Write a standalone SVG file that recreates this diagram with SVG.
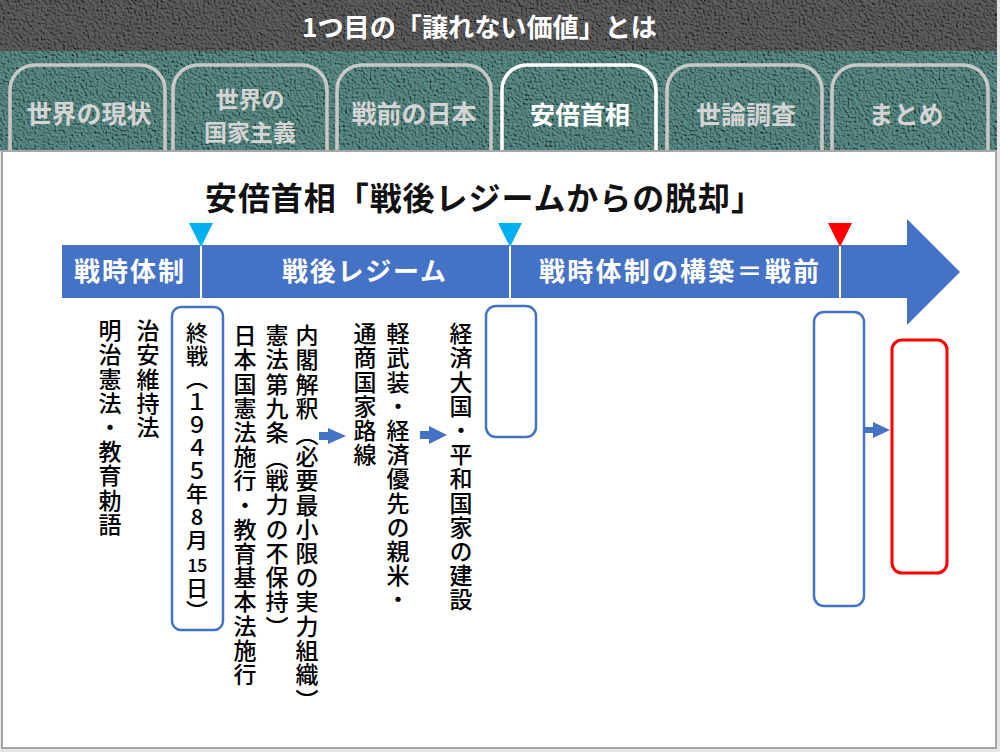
<svg xmlns="http://www.w3.org/2000/svg" width="1000" height="752" viewBox="0 0 1000 752">
<defs>
<filter id="tex" x="0" y="0" width="100%" height="100%">
<feTurbulence type="fractalNoise" baseFrequency="0.45" numOctaves="3" seed="7" result="n"/>
<feDiffuseLighting in="n" surfaceScale="3" lighting-color="#ffffff" result="l"><feDistantLight azimuth="135" elevation="55"/></feDiffuseLighting>
<feComposite in="l" in2="SourceGraphic" operator="arithmetic" k1="1.15" k2="0" k3="0" k4="0"/>
</filter>
<style>
.tab{fill:none;stroke:#c8c8c8;stroke-width:3.5}
.tabA{fill:none;stroke:#ffffff;stroke-width:3.5}
.tabt{font-family:"Noto Sans CJK JP","Noto Sans CJK SC",sans-serif;font-size:25px;font-weight:bold;fill:#d4d4d4;text-anchor:middle}
.tabt2{font-size:23px}
.tabtA{fill:#ffffff}
.band{font-family:"Noto Sans CJK JP",sans-serif;font-size:26px;font-weight:bold;fill:#ffffff}
.vt{font-family:"Noto Sans CJK JP",sans-serif;font-size:23px;font-weight:500;fill:#000000;writing-mode:vertical-rl;text-orientation:upright;letter-spacing:1.2px}
.vtb{font-size:22px;letter-spacing:1px}
.pc{font-family:"Noto Sans CJK JP",sans-serif;font-size:23px;font-weight:500;fill:#000000;text-anchor:middle;dominant-baseline:central}
.box{fill:none;stroke:#4472C4;stroke-width:2.5}
.rbox{fill:none;stroke:#FF0000;stroke-width:3}
.arr{fill:#4472C4}
</style>
</defs>
<rect x="0" y="0" width="1000" height="752" fill="#e6e6e6"/>
<rect x="0" y="0" width="997" height="51" fill="#5a5a5a" filter="url(#tex)"/>
<rect x="0" y="51" width="997" height="100" fill="#578782" filter="url(#tex)"/>
<text x="302" y="37" textLength="355" lengthAdjust="spacingAndGlyphs" style="font-family:'Noto Sans CJK JP',sans-serif;font-size:26px;font-weight:bold;fill:#ffffff">1つ目の「譲れない価値」とは</text>

<g id="tabs">
<g id="tab1"><path class="tab" d="M10,151 V90 A25,25 0 0 1 35,65 H140 A25,25 0 0 1 165,90 V151"/><text class="tabt" x="89" y="123">世界の現状</text></g>
<g id="tab2"><path class="tab" d="M173,151 V90 A25,25 0 0 1 198,65 H302 A25,25 0 0 1 327,90 V151"/><text class="tabt tabt2" x="250" y="108">世界の</text><text class="tabt tabt2" x="250" y="141">国家主義</text></g>
<g id="tab3"><path class="tab" d="M337,151 V90 A25,25 0 0 1 362,65 H466 A25,25 0 0 1 491,90 V151"/><text class="tabt" x="414" y="123">戦前の日本</text></g>
<g id="tab4"><path class="tabA" d="M502,151 V90 A25,25 0 0 1 527,65 H631 A25,25 0 0 1 656,90 V151"/><text class="tabt tabtA" x="580" y="124">安倍首相</text></g>
<g id="tab5"><path class="tab" d="M667,151 V90 A25,25 0 0 1 692,65 H797 A25,25 0 0 1 822,90 V151"/><text class="tabt" x="746" y="124">世論調査</text></g>
<g id="tab6"><path class="tab" d="M832,151 V90 A25,25 0 0 1 857,65 H963 A25,25 0 0 1 988,90 V151"/><text class="tabt" x="906" y="124">まとめ</text></g>
</g>

<rect x="2" y="151" width="994" height="597" fill="#ffffff" stroke="#a6a6a6" stroke-width="2"/>

<text x="205" y="210" textLength="558" lengthAdjust="spacing" style="font-family:'Noto Sans CJK JP',sans-serif;font-size:32px;font-weight:bold;fill:#111111">安倍首相「戦後レジームからの脱却」</text>

<g id="timeline">
<path d="M62,245 H907 V219 L960,272 L907,325 V298 H62 Z" fill="#4472C4"/>
<line x1="201" y1="245" x2="201" y2="298" stroke="#ffffff" stroke-width="2"/>
<line x1="510" y1="245" x2="510" y2="298" stroke="#ffffff" stroke-width="2"/>
<line x1="840" y1="245" x2="840" y2="298" stroke="#ffffff" stroke-width="2"/>
<polygon points="189,223 213,223 201,247" fill="#00B0F0"/>
<polygon points="498,223 522,223 510,247" fill="#00B0F0"/>
<polygon points="828,223 852,223 840,247" fill="#FF0000"/>
<text class="band" x="74" y="281" textLength="110" lengthAdjust="spacing">戦時体制</text>
<text class="band" x="282" y="281" textLength="164" lengthAdjust="spacing">戦後レジーム</text>
<text class="band" x="539" y="281" textLength="280" lengthAdjust="spacing">戦時体制の構築＝戦前</text>
</g>

<g id="n-meiji"><text class="vt" x="110" y="319">明治憲法・教育勅語</text></g>
<g id="n-chian"><text class="vt" x="148" y="319">治安維持法</text></g>
<g id="n-shusen">
<rect class="box" x="172" y="307" width="51" height="323" rx="9"/>
<text class="vt vtb" x="197" y="322">終戦︵１９４５年8月</text>
<text x="197" y="572" text-anchor="middle" style="font-family:'Noto Sans CJK JP',sans-serif;font-size:18px;font-weight:500;letter-spacing:-0.5px;fill:#000">15</text>
<text class="vt vtb" x="197" y="577">日︶</text>
</g>
<g id="n-kenpo">
<text class="vt" x="245" y="324">日本国憲法施行・教育基本法施行</text>
<text class="vt" x="277" y="324">憲法第九条</text>
<text class="pc" x="277" y="457">︵</text>
<text class="vt" x="277" y="469">戦力の不保持</text>
<text class="pc" x="277" y="626">︶</text>
<text class="vt" x="307" y="324">内閣解釈</text>
<text class="pc" x="307" y="433">︵</text>
<text class="vt" x="307" y="445">必要最小限の実力組織</text>
<text class="pc" x="307" y="699">︶</text>
</g>
<g id="n-tsusho">
<text class="vt" x="365" y="322">通商国家路線</text>
<text class="vt" x="398" y="322">軽武装・経済優先の親米・</text>
</g>
<g id="n-keizai"><text class="vt" x="461" y="322">経済大国・平和国家の建設</text></g>
<g id="n-box2"><rect class="box" x="486" y="306" width="50" height="131" rx="10"/></g>
<g id="n-box3"><rect class="box" x="814" y="312" width="50" height="294" rx="10"/></g>
<g id="n-red"><rect class="rbox" x="892" y="340" width="55" height="233" rx="10"/></g>

<g id="connectors">
<path class="arr" d="M319,432 H328 V428 L346,436 L328,444 V440 H319 Z"/>
<path class="arr" d="M420,431 H429 V426 L447,435 L429,444 V439 H420 Z"/>
<path class="arr" d="M864,427 H873 V422 L890,430 L873,438 V433 H864 Z"/>
</g>
</svg>
